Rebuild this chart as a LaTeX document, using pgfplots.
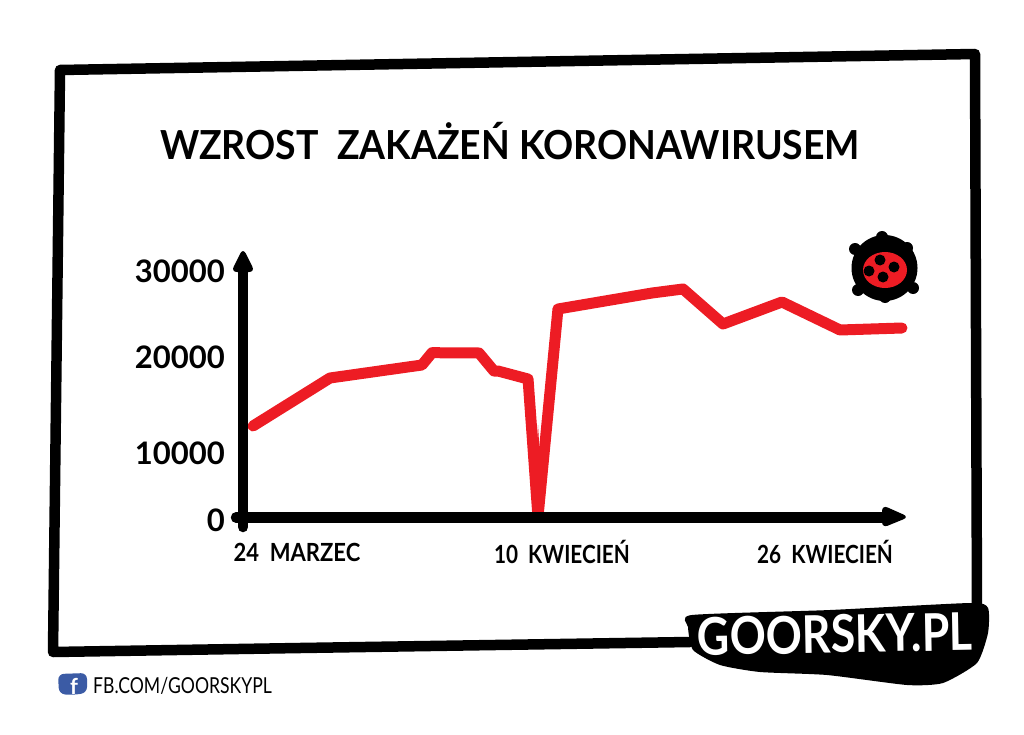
\documentclass[border=0pt]{standalone}
\usepackage{pgfplots}
\pgfplotsset{compat=1.18}
\usepackage{graphicx}
\usepackage{fontspec}
\setmainfont{Lato}
\definecolor{cred}{HTML}{ED1C24}
\definecolor{fbblue}{HTML}{3B5BA5}
\pgfplotstableread{
day value
-2.75 11098
2.06 16951
7.81 18537
8.44 20037
11.375 20000
12.31 17805
12.56 17805
14.44 16829
15.06 0
16.31 25366
22.19 27317
24.125 27805
26.625 23537
30.31 26220
33.94 22805
37.81 23049
}\datatable
\begin{document}
\begin{tikzpicture}
\begin{scope}[x=1pt,y=-1pt]
\path (0,0) rectangle (1024,735);
% frame
\draw[line width=10.5pt,line join=round,line cap=round] (690,642) -- (300,648) -- (53,652) -- (60,70) -- (975,54) -- (977,612);
\end{scope}
\begin{axis}[
  at={(243pt,-532pt)},anchor=south west,
  scale only axis,width=662pt,height=279pt,
  xmin=-3.375,xmax=38,ymin=-1829,ymax=32195,
  axis line style={draw=none},tick style={draw=none},major tick length=0pt,
  clip=false,scaled y ticks=false,scaled x ticks=false,
  xtick={0,16.56,33},
  xticklabels={\scalebox{0.88}[1]{24\ \ MARZEC},\scalebox{0.83}[1]{10\ \ KWIECIEŃ},\scalebox{0.83}[1]{26\ \ KWIECIEŃ}},
  ytick={-366,7805,19512,30000},
  yticklabels={0,10000,20000,30000},
  xticklabel style={anchor=center,inner sep=0pt,yshift=-20pt,font=\fontsize{25}{25}\selectfont\bfseries},
  yticklabel style={anchor=east,inner sep=0pt,xshift=-18pt,font=\fontsize{31}{31}\selectfont\bfseries},
]
\addplot[color=cred,line width=11pt,line join=round,line cap=round,no markers] table[x=day,y=value] {\datatable};
\end{axis}
\begin{scope}[x=1pt,y=-1pt]
% dip taper
\fill[cred] (532.5,517) -- (543.5,517) -- (538,425) -- cycle;
% axes
\draw[line width=10.5pt,line cap=round] (243,262) -- (243,527);
\draw[line width=10.5pt,line cap=round] (236,517.5) -- (893,517.5);
\fill[rounded corners=6pt] (243,248) -- (255,272) -- (231,272) -- cycle;
\fill[rounded corners=6pt] (909,517) -- (882,505) -- (882,528) -- cycle;
% title
\node[anchor=base,inner sep=0pt] at (510,160) {\fontsize{40}{40}\selectfont\bfseries\scalebox{0.935}[1]{WZROST\ \ ZAKAŻEŃ KORONAWIRUSEM}};
% virus icon
\fill (884.5,268) circle (33);
\foreach \p in {(882,237),(855,249),(907,248),(858,290),(885,297),(913,288)} \fill \p circle (6);
\fill[cred] (885,270) ellipse (22 and 18);
\foreach \p in {(880,260),(894,267),(869,271),(883,277)} \fill \p circle (5.5);
% logo
\fill[smooth cycle] plot[tension=0.35] coordinates {(692,615) (830,610) (970,603) (988,608) (988,633) (977,663) (943,683) (907,685) (827,675) (760,672) (720,665) (693,650) (688,627)};
\node[white,rotate=1,inner sep=0pt] at (835,634) {\fontsize{52}{52}\selectfont\bfseries\scalebox{0.86}[1]{GOORSKY.PL}};
% facebook
\fill[fbblue,rounded corners=6pt] (58,674) -- (87,673) -- (87,693) -- (72,695) -- (59,694) -- cycle;
\node[white,inner sep=0pt] at (74,686) {\fontsize{22}{22}\selectfont\bfseries f};
\node[anchor=west,inner sep=0pt] at (93,686) {\fontsize{22}{22}\selectfont\scalebox{0.80}[1]{FB.COM/GOORSKYPL}};
\end{scope}
\end{tikzpicture}
\end{document}
